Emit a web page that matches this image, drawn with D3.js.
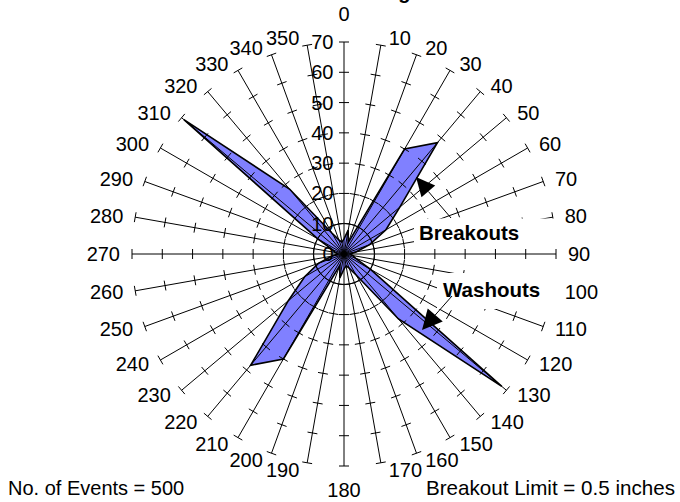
<!DOCTYPE html>
<html>
<head>
<meta charset="utf-8">
<script src="https://cdn.jsdelivr.net/npm/d3@7"></script>
<style>
  body { margin: 0; background: #fff; }
  svg { display: block; }
  text { font-family: "Liberation Sans", Arial, sans-serif; fill: #000; }
</style>
</head>
<body>
<svg id="chart" width="680" height="502"></svg>
<script>
// Borehole wall failure directions (degrees from north) and event counts
const directions = [0, 10, 20, 30, 40, 50, 60, 70, 80, 90, 100, 110,
                    120, 130, 140, 150, 160, 170, 180, 190, 200, 210, 220, 230,
                    240, 250, 260, 270, 280, 290, 300, 310, 320, 330, 340, 350];
const eventCounts = [5, 8, 4, 40, 48, 24, 16, 9, 4, 2, 3, 4,
                     10, 68, 28, 8, 5, 4, 5, 8, 4, 40, 48, 24,
                     15, 9, 4, 2, 3, 4, 10, 69, 28, 8, 5, 4];
const radialTicks = [0, 10, 20, 30, 40, 50, 60, 70];
const chartTitle = "Breakout Log";
const footLeft = "No. of Events = 500";
const footRight = "Breakout Limit = 0.5 inches";

const svg = d3.select("#chart");
const cx = 344, cy = 254;

const r = d3.scaleLinear().domain([0, 70]).range([0, 212]);
const a = d3.scaleLinear().domain([0, 360]).range([0, 2 * Math.PI]);

const pt = (deg, v) => [cx + r(v) * Math.sin(a(deg)), cy - r(v) * Math.cos(a(deg))];

svg.append("rect").attr("width", 680).attr("height", 502).attr("fill", "#fff");

const g = svg.append("g").attr("transform", `translate(${cx},${cy})`);

// data polygon
const rows = directions.map((d, i) => ({ dir: d, v: eventCounts[i] }));
const radial = d3.lineRadial()
  .angle(d => a(d.dir))
  .radius(d => r(d.v))
  .curve(d3.curveLinearClosed);
g.append("path")
  .attr("d", radial(rows))
  .attr("fill", "#8080ff")
  .attr("stroke", "#000")
  .attr("stroke-width", 1.6)
  .attr("stroke-linejoin", "miter");

// spokes with tick marks every 10 units
const maxV = radialTicks[radialTicks.length - 1];
const tickHalf = 5;
directions.forEach(d => {
  const [x1, y1] = pt(d, maxV);
  svg.append("line")
    .attr("x1", cx).attr("y1", cy).attr("x2", x1).attr("y2", y1)
    .attr("stroke", "#000").attr("stroke-width", 1);
  const ux = Math.sin(a(d)), uy = -Math.cos(a(d));
  radialTicks.filter(t => t > 0).forEach(t => {
    const [px, py] = pt(d, t);
    svg.append("line")
      .attr("x1", px - uy * tickHalf).attr("y1", py + ux * tickHalf)
      .attr("x2", px + uy * tickHalf).attr("y2", py - ux * tickHalf)
      .attr("stroke", "#000").attr("stroke-width", 1);
  });
});

// radial value labels along the north spoke
radialTicks.forEach(t => {
  svg.append("text")
    .attr("x", cx - 10.5)
    .attr("y", cy - r(t))
    .attr("dy", "0.35em")
    .attr("text-anchor", "end")
    .attr("font-size", 20)
    .text(t);
});

// direction labels around the rim
directions.forEach(d => {
  const [tx, ty] = pt(d, maxV);
  const ux = Math.sin(a(d)), uy = -Math.cos(a(d));
  const t = svg.append("text").attr("font-size", 20).text(d);
  if (d === 0) {
    t.attr("x", tx).attr("y", ty - 21).attr("text-anchor", "middle");
  } else if (d === 180) {
    t.attr("x", tx).attr("y", ty + 31).attr("text-anchor", "middle");
  } else {
    const off = 7 + 5 * Math.abs(ux);
    t.attr("x", d < 180 ? tx + off : tx - off)
      .attr("y", ty + 7.5 * uy)
      .attr("dy", "0.35em")
      .attr("text-anchor", d < 180 ? "start" : "end");
  }
});

// arrow helper
function arrow(x0, y0, x1, y1, len, half) {
  const dx = x1 - x0, dy = y1 - y0, n = Math.hypot(dx, dy);
  const ux = dx / n, uy = dy / n;
  const bx = x1 - ux * len, by = y1 - uy * len;
  svg.append("line").attr("x1", x0).attr("y1", y0).attr("x2", bx).attr("y2", by)
    .attr("stroke", "#000").attr("stroke-width", 1);
  svg.append("path")
    .attr("d", `M${x1},${y1}L${bx - uy * half},${by + ux * half}L${bx + uy * half},${by - ux * half}Z`)
    .attr("fill", "#000");
}

// annotation boxes
svg.append("rect").attr("x", 414).attr("y", 218.5).attr("width", 142).attr("height", 29).attr("fill", "#fff");
svg.append("rect").attr("x", 437).attr("y", 273).attr("width", 122).attr("height", 36).attr("fill", "#fff");

svg.append("text").attr("x", 419).attr("y", 239.5)
  .attr("font-size", 20.5).attr("font-weight", "bold").text("Breakouts");
svg.append("text").attr("x", 443).attr("y", 297)
  .attr("font-size", 20.5).attr("font-weight", "bold").text("Washouts");

arrow(451, 218, 416, 177, 19, 9);
arrow(452, 296, 422, 330, 20, 10);

// title (mostly above the top edge)
svg.append("text").attr("x", 346).attr("y", -1)
  .attr("text-anchor", "middle").attr("font-size", 20).attr("font-weight", "bold")
  .text(chartTitle);

// footnotes
svg.append("text").attr("x", 8).attr("y", 495).attr("font-size", 20).text(footLeft);
svg.append("text").attr("x", 675).attr("y", 495).attr("text-anchor", "end").attr("font-size", 20.6).text(footRight);
</script>
</body>
</html>
